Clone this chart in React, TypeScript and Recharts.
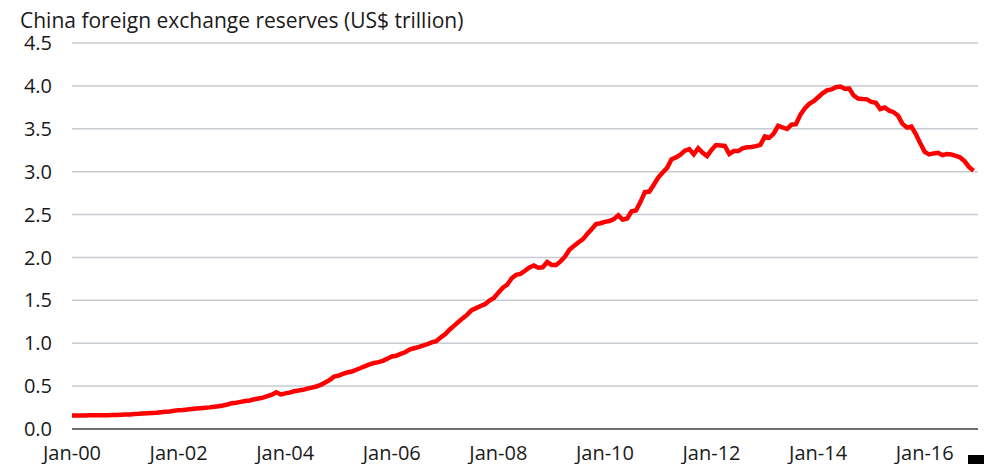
import { CartesianGrid, Line, LineChart, XAxis, YAxis } from 'recharts';

// China FX reserves, US$ trillion, end of month (Jan..Dec)
const r2000 = [0.158, 0.158, 0.157, 0.158, 0.159, 0.159, 0.159, 0.160, 0.161, 0.162, 0.164, 0.166];
const r2001 = [0.168, 0.170, 0.176, 0.177, 0.180, 0.183, 0.186, 0.190, 0.196, 0.201, 0.205, 0.212];
const r2002 = [0.220, 0.221, 0.228, 0.234, 0.238, 0.243, 0.248, 0.252, 0.259, 0.265, 0.274, 0.286];
const r2003 = [0.301, 0.307, 0.316, 0.326, 0.333, 0.346, 0.356, 0.365, 0.384, 0.400, 0.428, 0.403];
const r2004 = [0.415, 0.424, 0.440, 0.448, 0.457, 0.471, 0.483, 0.495, 0.515, 0.542, 0.571, 0.610];
const r2005 = [0.623, 0.642, 0.659, 0.670, 0.691, 0.711, 0.733, 0.753, 0.769, 0.780, 0.794, 0.819];
const r2006 = [0.845, 0.854, 0.875, 0.895, 0.925, 0.941, 0.954, 0.972, 0.988, 1.010, 1.024, 1.066];
const r2007 = [1.105, 1.158, 1.202, 1.247, 1.292, 1.333, 1.385, 1.409, 1.434, 1.455, 1.497, 1.528];
const r2008 = [1.590, 1.647, 1.682, 1.757, 1.797, 1.809, 1.845, 1.884, 1.906, 1.880, 1.885, 1.946];
const r2009 = [1.913, 1.912, 1.954, 2.009, 2.090, 2.132, 2.175, 2.211, 2.273, 2.328, 2.389, 2.399];
const r2010 = [2.415, 2.425, 2.447, 2.491, 2.440, 2.454, 2.539, 2.548, 2.648, 2.761, 2.768, 2.847];
const r2011 = [2.932, 2.991, 3.045, 3.145, 3.166, 3.198, 3.245, 3.263, 3.202, 3.274, 3.221, 3.181];
const r2012 = [3.254, 3.310, 3.305, 3.300, 3.206, 3.240, 3.240, 3.273, 3.285, 3.287, 3.298, 3.312];
const r2013 = [3.410, 3.395, 3.443, 3.535, 3.515, 3.497, 3.548, 3.553, 3.663, 3.737, 3.790, 3.821];
const r2014 = [3.867, 3.914, 3.948, 3.959, 3.984, 3.993, 3.966, 3.969, 3.888, 3.853, 3.847, 3.843];
const r2015 = [3.813, 3.802, 3.730, 3.748, 3.711, 3.694, 3.651, 3.557, 3.514, 3.526, 3.438, 3.330];
const r2016 = [3.231, 3.202, 3.213, 3.220, 3.192, 3.205, 3.201, 3.185, 3.166, 3.121, 3.052, 3.011];

const years = [
  r2000, r2001, r2002, r2003, r2004, r2005, r2006, r2007, r2008,
  r2009, r2010, r2011, r2012, r2013, r2014, r2015, r2016,
];

const xTickLabels = ['Jan-00', 'Jan-02', 'Jan-04', 'Jan-06', 'Jan-08', 'Jan-10', 'Jan-12', 'Jan-14', 'Jan-16'];
const yTicks = [0, 0.5, 1, 1.5, 2, 2.5, 3, 3.5, 4, 4.5];

const data = years.flatMap((vals, yi) => vals.map((v, mi) => ({ m: yi * 12 + mi, value: v })));

const font = "'Open Sans', sans-serif";

export default function App() {
  return (
    <div style={{ position: 'absolute', left: 0, top: 0, width: 984, height: 464, background: '#fff', fontFamily: font }}>
      <div
        style={{
          position: 'absolute',
          left: 20,
          top: 9,
          fontSize: 21,
          lineHeight: '22px',
          color: '#1a1a1a',
          whiteSpace: 'nowrap',
        }}
      >
        China foreign exchange reserves (US$ trillion)
      </div>
      <LineChart
        width={984}
        height={464}
        data={data}
        margin={{ top: 43, right: 6, left: 0, bottom: 0 }}
      >
        <CartesianGrid vertical={false} stroke="#c5cbd0" strokeWidth={1.5} />
        <XAxis
          dataKey="m"
          type="number"
          domain={[0, 204]}
          ticks={[0, 24, 48, 72, 96, 120, 144, 168, 192]}
          tickFormatter={(v: number) => xTickLabels[v / 24]}
          tickLine={false}
          tickSize={0}
          tickMargin={17}
          height={35}
          axisLine={{ stroke: '#4d4d4d', strokeWidth: 1.5 }}
          tick={{ fill: '#1a1a1a', fontSize: 20, fontFamily: font }}
          interval={0}
        />
        <YAxis
          domain={[0, 4.5]}
          ticks={yTicks}
          tickFormatter={(v: number) => v.toFixed(1)}
          tickLine={false}
          axisLine={false}
          tickSize={0}
          tickMargin={20}
          width={72}
          tick={{ fill: '#1a1a1a', fontSize: 20, fontFamily: font }}
          interval={0}
        />
        <Line
          type="linear"
          dataKey="value"
          stroke="#ff0000"
          strokeWidth={4.5}
          dot={false}
          isAnimationActive={false}
        />
      </LineChart>
      <div style={{ position: 'absolute', left: 968, top: 455, width: 16, height: 9, background: '#000' }} />
    </div>
  );
}
